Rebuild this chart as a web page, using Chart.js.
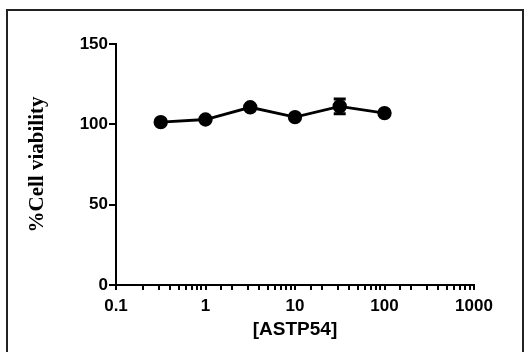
<!DOCTYPE html>
<html>
<head>
<meta charset="utf-8">
<script src="https://cdn.jsdelivr.net/npm/chart.js@4/dist/chart.umd.min.js"></script>
<style>
html,body{margin:0;padding:0;background:#fff;}
#wrap{position:relative;width:525px;height:352px;}
</style>
</head>
<body>
<div id="wrap"><canvas id="c" width="525" height="352"></canvas></div>
<script>
const concentrations = [0.316, 1, 3.16, 10, 31.6, 100];
const viability = [101.4, 103.0, 110.6, 104.5, 111.2, 107.0];
const viabilityErr = [0, 0, 0, 0, 4.6, 0];
const xTickLabels = [0.1, 1, 10, 100, 1000];
const yTickValues = [0, 50, 100, 150];
const xTitle = '[ASTP54]';
const yTitle = '%Cell viability';

const points = concentrations.map((c, i) => ({x: c, y: viability[i]}));

const framePlugin = {
  id: 'frame',
  beforeDraw(chart) {
    const ctx = chart.ctx;
    ctx.save();
    ctx.fillStyle = '#fff';
    ctx.fillRect(0, 0, chart.width, chart.height);
    ctx.strokeStyle = '#222';
    ctx.lineWidth = 2;
    ctx.beginPath();
    ctx.moveTo(7, 352);
    ctx.lineTo(7, 10);
    ctx.lineTo(523, 10);
    ctx.lineTo(523, 352);
    ctx.stroke();
    ctx.restore();
  }
};

const errorBarPlugin = {
  id: 'errbars',
  afterDatasetsDraw(chart) {
    const ctx = chart.ctx;
    const xs = chart.scales.x, ys = chart.scales.y;
    ctx.save();
    ctx.strokeStyle = '#000';
    ctx.lineWidth = 3;
    concentrations.forEach((c, i) => {
      const e = viabilityErr[i];
      if (!e) return;
      const px = xs.getPixelForValue(c);
      const top = ys.getPixelForValue(viability[i] + e);
      const bot = ys.getPixelForValue(viability[i] - e);
      ctx.beginPath();
      ctx.moveTo(px, top); ctx.lineTo(px, bot);
      ctx.moveTo(px - 6, top); ctx.lineTo(px + 6, top);
      ctx.moveTo(px - 6, bot); ctx.lineTo(px + 6, bot);
      ctx.stroke();
    });
    ctx.restore();
  }
};

function fmt(v) {
  const match = xTickLabels.find(t => Math.abs(t - v) / t < 1e-6);
  return match === undefined ? '' : String(match);
}

new Chart(document.getElementById('c'), {
  type: 'scatter',
  data: {
    datasets: [{
      data: points,
      showLine: true,
      borderColor: '#000',
      backgroundColor: '#000',
      borderWidth: 2.8,
      pointRadius: 5.8,
      pointHoverRadius: 5.8,
      pointBackgroundColor: '#000',
      pointBorderColor: '#000',
      tension: 0
    }]
  },
  options: {
    responsive: false,
    animation: false,
    events: [],
    layout: {padding: {left: 0, top: 44, right: 51, bottom: 0}},
    plugins: {legend: {display: false}, tooltip: {enabled: false}},
    scales: {
      x: {
        type: 'logarithmic',
        min: 0.1,
        max: 1000,
        afterFit(s) { s.height = 67; },
        border: {display: true, color: '#000', width: 2},
        grid: {drawOnChartArea: false, drawTicks: true, tickLength: 5, color: '#000', lineWidth: 2},
        ticks: {
          autoSkip: false,
          maxRotation: 0,
          padding: 6,
          color: '#000',
          font: {family: 'Liberation Sans, Arial, sans-serif', size: 17, weight: 'bold'},
          callback: (v) => fmt(v)
        },
        title: {
          display: true,
          text: xTitle,
          color: '#000',
          font: {family: 'Liberation Sans, Arial, sans-serif', size: 19, weight: 'bold'},
          padding: {top: 0, bottom: 11}
        }
      },
      y: {
        type: 'linear',
        min: 0,
        max: 150,
        afterFit(s) { s.width = 116; },
        afterBuildTicks(s) { s.ticks = yTickValues.map(v => ({value: v})); },
        border: {display: true, color: '#000', width: 2},
        grid: {drawOnChartArea: false, drawTicks: true, tickLength: 7, color: '#000', lineWidth: 2},
        ticks: {
          padding: 1,
          color: '#000',
          font: {family: 'Liberation Sans, Arial, sans-serif', size: 17, weight: 'bold'}
        },
        title: {
          display: true,
          text: yTitle,
          color: '#000',
          font: {family: 'Liberation Serif, Times New Roman, serif', size: 21, weight: 'bold'},
          padding: {top: 25, bottom: 0}
        }
      }
    }
  },
  plugins: [framePlugin, errorBarPlugin]
});
</script>
</body>
</html>
